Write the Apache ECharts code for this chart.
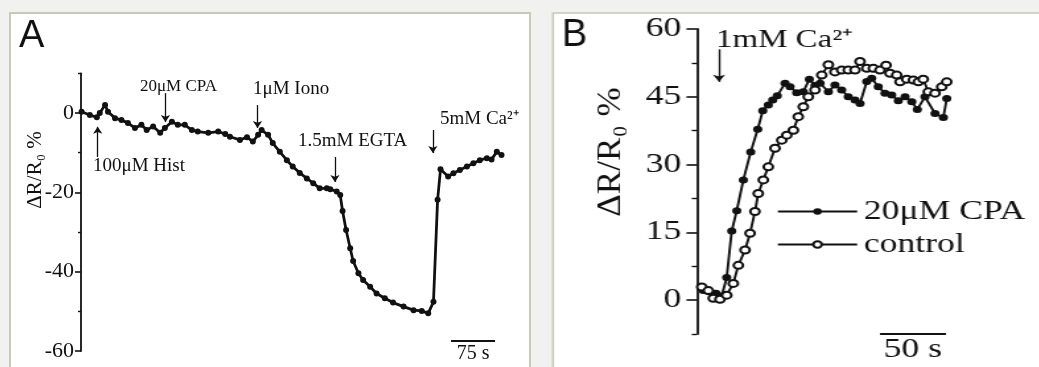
<!DOCTYPE html>
<html>
<head>
  <meta charset="utf-8">
  <script src="https://cdn.jsdelivr.net/npm/echarts@6/dist/echarts.min.js"></script>
  <style>
    body { margin: 0; background: #f1f1ef; overflow: hidden; }
    #chart_a { position: absolute; left: 0; top: 0; width: 546px; height: 367px; }
    /* panel B in the source is stretched sideways, so stretch the whole chart */
    #chart_b { position: absolute; left: 546px; top: 0; width: 374px; height: 367px;
               transform: scaleX(1.32); transform-origin: 0 0; }
  </style>
</head>
<body>
  <div id="chart_a"></div>
  <div id="chart_b"></div>

  <script type="text/javascript">
    // panel A: time (s) and dR/R0 (%)
    var timeA = [1, 15, 27, 32, 41, 46, 58, 69, 80, 92,
      103, 112, 123, 135, 143, 155, 165, 177, 189, 199,
      217, 234, 246, 254, 271, 283, 293, 302, 308, 319,
      327, 339, 351, 361, 373, 385, 396, 407, 419, 425,
      436, 442, 446, 452, 459, 464, 473, 481, 493, 504,
      518, 532, 550, 567, 581, 592, 601, 608, 613, 626,
      635, 646, 658, 669, 680, 692, 700, 709, 717];
    var valueA = [0.3, -0.5, -1.1, 0, 2, 0.3, -1.3, -1.8, -2.5, -3.8,
      -3, -4.3, -3.4, -5, -3.8, -2.2, -3, -3, -4.3, -4.7,
      -5, -4.7, -5.3, -6, -6.8, -6.1, -7.2, -5.5, -4.3, -5.5,
      -7.6, -9.8, -11.9, -13.5, -15.1, -16.5, -17.7, -19, -19, -19.2,
      -19.8, -20.7, -24.7, -29.5, -34.1, -37.3, -40.4, -42.1, -43.8, -45.5,
      -46.7, -47.8, -48.8, -49.7, -49.9, -50.5, -47.6, -21.9, -14.2, -16,
      -15.2, -14.4, -13.5, -12.7, -11.9, -11.4, -11.7, -9.8, -10.6];
    var ticksA = [-60, -40, -20, 0];
    var minorA = [-50, -30, -10, 10];

    // panel B
    var timeCpa = [4.8, 9.8, 14.4, 18.7, 22.5, 26.3, 30.1, 35.1, 40.7, 46,
      49.8, 54, 57.3, 60.8, 66.7, 70.5, 75.5, 80.5, 85.1, 89.4,
      93.2, 99.5, 104.5, 109.6, 114.6, 119.7, 123.5, 128.6, 132.3, 137.3,
      142.4, 147.5, 152.5, 157.6, 162.7, 166.9, 172.7, 180.3, 186.6, 189.2];
    var valueCpa = [2.1, 1.8, 1.5, 0.9, 5, 15.3, 19.8, 26.6, 32.8, 37.8,
      41.9, 43.2, 44.3, 45.2, 48, 47.2, 45.9, 46.1, 48.9, 47.5,
      48, 46.1, 47.6, 46.5, 45, 44.3, 43.5, 48.4, 49.1, 47.2,
      45.8, 45.4, 44.1, 45, 43.9, 42.2, 45, 41.3, 40.4, 44.6];
    var timeCtl = [3.6, 8.6, 12.3, 17.4, 22.5, 27.5, 31.3, 36.4, 40.2, 43.9,
      46.4, 50.2, 54, 59.1, 64.2, 68, 73, 76.7, 80.5, 84.3,
      89.4, 94.5, 99.5, 104.5, 109.6, 114.6, 119.7, 123.5, 128.6, 133.6,
      138.6, 143.2, 146.2, 151.3, 153.8, 158.9, 163.9, 167.7, 171.4, 175.2,
      180.3, 185.4, 189.2];
    var valueCtl = [2.9, 2.1, 0.4, 0.2, 1.1, 3.7, 7.7, 11.1, 14.8, 19.6,
      23.6, 26.6, 29.5, 33.6, 35.4, 36.5, 37.6, 40.6, 42.8, 45,
      46.5, 49.8, 52.1, 50.5, 50.9, 50.9, 50.9, 52.8, 51.3, 51.3,
      50.9, 52, 50.2, 49.8, 48.3, 48.9, 48.7, 48.3, 48.9, 46.1,
      45.8, 47.2, 48.3];
    var ticksB = [0, 15, 30, 45, 60];
    var minorB = [-7.5, 7.5, 22.5, 37.5, 52.5];
    var namesB = ['20μM CPA', 'control'];

    var serif = "'Liberation Serif', 'Times New Roman', serif";
    var ink = '#111';
    var frameColor = '#c9c9b7';

    function pairs(xs, ys) {
      return xs.map(function(x, i) { return [x, ys[i]]; });
    }

    // arrow from y0 to y1 at time t
    function arrow(t, y0, y1) {
      return [{ coord: [t, y0], symbol: 'none' }, { coord: [t, y1], symbol: 'arrow' }];
    }

    function scaleBar(t0, t1, y, text, size) {
      return [{
        coord: [t0, y], symbol: 'none',
        lineStyle: { width: 2 },
        label: { show: true, formatter: text, position: 'insideMiddleBottom', distance: 3,
                 fontFamily: serif, fontSize: size, color: ink }
      }, { coord: [t1, y], symbol: 'none' }];
    }

    function minorAxis(lo, hi, values, len, w) {
      return {
        type: 'value', min: lo, max: hi, position: 'left',
        axisLine: { show: false },
        axisTick: { show: true, customValues: values, length: len, lineStyle: { color: ink, width: w } },
        axisLabel: { show: false },
        splitLine: { show: false }
      };
    }

    function label(x, y, text, size) {
      return { type: 'text', x: x, y: y,
               style: { text: text, fontFamily: serif, fontSize: size, fill: ink, verticalAlign: 'middle' } };
    }

    // ---------- panel A ----------
    var chartA = echarts.init(document.getElementById('chart_a'));
    chartA.setOption({
      animation: false,
      graphic: [
        { type: 'rect', z: -10, shape: { x: 10, y: 13, width: 520, height: 400 },
          style: { fill: '#fff', stroke: frameColor, lineWidth: 2 } },
        { type: 'text', x: 19, y: 18,
          style: { text: 'A', fontFamily: "'Liberation Sans', sans-serif", fontSize: 38, fill: ink } },
        { type: 'text', x: 35, y: 170, rotation: Math.PI / 2,
          style: { text: 'ΔR/R₀ %', fontFamily: serif, fontSize: 21, fill: ink, align: 'center', verticalAlign: 'middle' } },
        label(93, 166, '100μM Hist', 19),
        label(140, 87, '20μM CPA', 17),
        label(253, 89, '1μM Iono', 19),
        label(298, 141, '1.5mM EGTA', 19),
        label(440, 119, '5mM Ca²⁺', 19)
      ],
      grid: { left: 81, right: 31, top: 73.3, bottom: 16 },
      xAxis: { type: 'value', min: 0, max: 740, show: false },
      yAxis: [{
        type: 'value', min: -60, max: 10,
        axisLine: { show: true, lineStyle: { color: ink, width: 1.8 } },
        axisTick: { show: true, customValues: ticksA, length: 6, lineStyle: { color: ink, width: 1.6 } },
        axisLabel: { customValues: ticksA, fontFamily: serif, fontSize: 22, color: ink, margin: 7 },
        splitLine: { show: false }
      }, minorAxis(-60, 10, minorA, 3, 1.4)],
      series: [{
        type: 'line',
        data: pairs(timeA, valueA),
        symbol: 'circle',
        symbolSize: 6,
        lineStyle: { color: ink, width: 2.8 },
        itemStyle: { color: ink },
        markLine: {
          silent: true,
          symbol: ['none', 'arrow'],
          symbolSize: 7,
          label: { show: false },
          lineStyle: { color: ink, width: 1.3, type: 'solid' },
          data: [
            arrow(28.5, -11.1, -3.5),
            arrow(144, 5, -2.3),
            arrow(301, 2, -3.8),
            arrow(433, -11.1, -17.4),
            arrow(600, -4.3, -10.1),
            scaleBar(631, 706, -57.4, '75 s', 20)
          ]
        }
      }]
    });

    // ---------- panel B ----------
    var chartB = echarts.init(document.getElementById('chart_b'));
    chartB.setOption({
      animation: false,
      graphic: [
        { type: 'rect', z: -10, shape: { x: 5.3, y: 13, width: 500, height: 400 },
          style: { fill: '#fff', stroke: frameColor, lineWidth: 1.6 } },
        { type: 'text', x: 12.1, y: 17, scaleX: 1 / 1.32,
          style: { text: 'B', fontFamily: "'Liberation Sans', sans-serif", fontSize: 38, fill: ink } },
        { type: 'text', x: 49.2, y: 152, rotation: Math.PI / 2, scaleX: 1.3, scaleY: 0.95,
          style: { text: 'ΔR/R₀ %', fontFamily: serif, fontSize: 27, fill: ink, align: 'center', verticalAlign: 'middle' } },
        label(128.7, 40, '1mM Ca²⁺', 25)
      ],
      legend: {
        orient: 'vertical', left: 169.7, top: 193,
        itemWidth: 60, itemHeight: 8, itemGap: 6,
        selectedMode: false,
        textStyle: { fontFamily: serif, fontSize: 27, color: ink },
        data: namesB
      },
      grid: { left: 114.4, right: 19.6, top: 29, bottom: 33 },
      xAxis: { type: 'value', min: 0, max: 240, show: false },
      yAxis: [{
        type: 'value', min: -7.5, max: 60,
        axisLine: { show: true, lineStyle: { color: ink, width: 1.8 } },
        axisTick: { show: true, customValues: ticksB, length: 8, lineStyle: { color: ink, width: 1.6 } },
        axisLabel: { customValues: ticksB, fontFamily: serif, fontSize: 27, color: ink, margin: 12 },
        splitLine: { show: false }
      }, minorAxis(-7.5, 60, minorB, 4, 1.4)],
      series: [{
        name: namesB[0],
        type: 'line',
        data: pairs(timeCpa, valueCpa),
        symbol: 'circle',
        symbolSize: 7,
        lineStyle: { color: ink, width: 1.9 },
        itemStyle: { color: ink },
        markLine: {
          silent: true,
          symbol: ['none', 'arrow'],
          symbolSize: 7,
          label: { show: false },
          lineStyle: { color: ink, width: 1.4, type: 'solid' },
          data: [
            arrow(16.7, 55.5, 48.3),
            scaleBar(138.6, 188.6, -7.4, '50 s', 27)
          ]
        }
      }, {
        name: namesB[1],
        type: 'line',
        data: pairs(timeCtl, valueCtl),
        symbol: 'emptyCircle',
        symbolSize: 7,
        lineStyle: { color: ink, width: 1.9 },
        itemStyle: { color: ink, borderWidth: 1.5 }
      }]
    });
  </script>
</body>
</html>
